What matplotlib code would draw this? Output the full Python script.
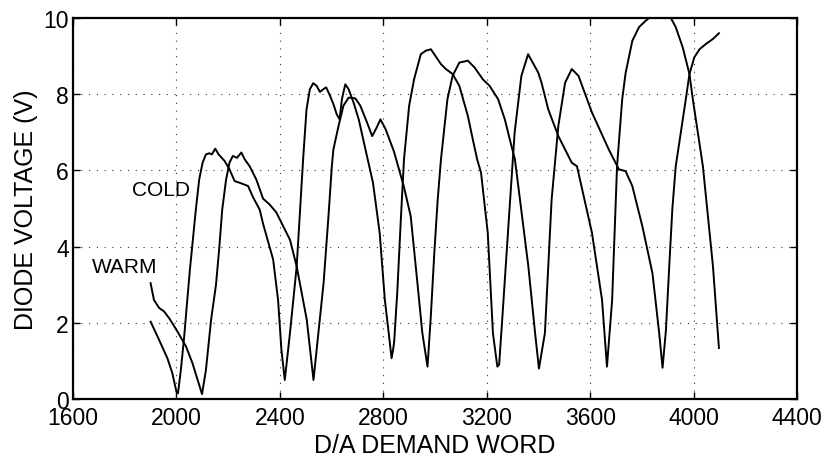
import matplotlib
matplotlib.use("Agg")
import matplotlib.pyplot as plt

plt.rcParams['font.family'] = ['Liberation Sans', 'DejaVu Sans']

# COLD curve
cold_x = [1900, 1933, 1965, 1984, 2000, 2006, 2017, 2030, 2043, 2052, 2075, 2088, 2101, 2114,
          2127, 2137, 2150, 2163, 2186, 2205, 2225, 2251, 2277, 2296, 2322, 2335, 2374, 2393,
          2406, 2419, 2439, 2465, 2490, 2503, 2516, 2529, 2542, 2555, 2568, 2579, 2594, 2607,
          2620, 2631, 2640, 2653, 2666, 2685, 2705, 2731, 2760, 2786, 2806, 2821, 2832, 2838,
          2842, 2854, 2867, 2880, 2900, 2919, 2945, 2964, 2984, 3023, 3042, 3068, 3094, 3127,
          3146, 3163, 3178, 3204, 3224, 3241, 3248, 3262, 3282, 3308, 3334, 3360, 3399, 3412,
          3438, 3477, 3529, 3549, 3607, 3646, 3665, 3685, 3704, 3724, 3737, 3763, 3789, 3815,
          3828, 3870, 3912, 3931, 3958, 3984, 3997, 4036, 4075, 4098]
cold_y = [2.03, 1.55, 1.07, 0.68, 0.19, 0.15, 0.76, 1.64, 2.69, 3.39, 4.97, 5.76, 6.2, 6.42,
          6.45, 6.42, 6.57, 6.42, 6.25, 6.03, 5.72, 5.66, 5.59, 5.3, 4.97, 4.6, 3.66, 2.6,
          1.29, 0.5, 1.73, 3.48, 6.3, 7.6, 8.13, 8.29, 8.22, 8.06, 8.13, 8.18, 7.96, 7.74,
          7.47, 7.34, 7.87, 8.26, 8.13, 7.78, 7.34, 6.55, 5.68, 4.36, 2.6, 1.73, 1.07, 1.3,
          1.5, 2.8, 4.6, 6.29, 7.7, 8.39, 9.05, 9.14, 9.18, 8.79, 8.66, 8.53, 8.22, 7.43,
          6.82, 6.29, 5.94, 4.36, 1.73, 0.85, 0.9, 2.3, 4.36, 7.0, 8.48, 9.05, 8.57, 8.3,
          7.6, 6.9, 6.2, 6.11, 4.36, 2.6, 0.85, 2.6, 6.11, 7.87, 8.55, 9.4, 9.76, 9.93,
          10.0, 10.0, 10.0, 9.76, 9.23, 8.53, 7.87, 6.11, 3.48, 1.34]

# WARM curve
warm_x = [1900, 1913, 1933, 1952, 1972, 2004, 2037, 2062, 2082, 2099, 2114, 2134, 2153, 2166,
          2177, 2192, 2205, 2218, 2234, 2251, 2264, 2283, 2309, 2335, 2361, 2386, 2439, 2465,
          2504, 2530, 2569, 2588, 2601, 2607, 2627, 2646, 2666, 2692, 2711, 2737, 2757, 2774,
          2789, 2809, 2841, 2879, 2906, 2932, 2951, 2971, 2984, 2997, 3010, 3023, 3048, 3068,
          3094, 3127, 3153, 3185, 3211, 3244, 3270, 3289, 3309, 3322, 3361, 3387, 3402, 3425,
          3451, 3477, 3503, 3529, 3555, 3607, 3672, 3711, 3737, 3763, 3802, 3841, 3867, 3880,
          3893, 3906, 3918, 3931, 3970, 3984, 4003, 4023, 4048, 4075, 4098]
warm_y = [3.04, 2.6, 2.39, 2.3, 2.12, 1.77, 1.38, 0.94, 0.5, 0.13, 0.76, 2.08, 3.0, 4.0,
          4.97, 5.76, 6.2, 6.38, 6.33, 6.47, 6.29, 6.11, 5.76, 5.26, 5.1, 4.9, 4.18, 3.48,
          2.08, 0.5, 3.04, 4.8, 6.11, 6.55, 7.17, 7.7, 7.91, 7.89, 7.7, 7.26, 6.9, 7.12,
          7.34, 7.08, 6.5, 5.59, 4.8, 3.04, 1.73, 0.85, 2.2, 3.8, 5.2, 6.29, 7.87, 8.48,
          8.83, 8.88, 8.7, 8.39, 8.22, 7.87, 7.34, 6.82, 6.29, 5.59, 3.48, 1.73, 0.8, 1.73,
          5.24, 7.17, 8.3, 8.66, 8.48, 7.52, 6.55, 6.03, 5.98, 5.59, 4.53, 3.3, 1.73, 0.82,
          1.8, 3.5, 5.0, 6.11, 7.87, 8.53, 8.97, 9.18, 9.32, 9.45, 9.6]

x_ticks = [1600, 2000, 2400, 2800, 3200, 3600, 4000, 4400]
y_ticks = [0, 2, 4, 6, 8, 10]
labels = [("COLD", 1827, 5.5), ("WARM", 1672, 3.47)]

fig = plt.figure(figsize=(8.26, 4.60), dpi=100)
ax = fig.add_axes([0.0884, 0.1304, 0.8765, 0.8283])

ax.plot(cold_x, cold_y, color='black', lw=1.4)
ax.plot(warm_x, warm_y, color='black', lw=1.4)

ax.set_xlim(1600, 4400)
ax.set_ylim(0, 10)
ax.set_xticks(x_ticks)
ax.set_yticks(y_ticks)
ax.grid(True, color='#333333', linestyle=(0, (1, 6)), linewidth=0.8)
ax.tick_params(direction='in', top=True, right=True, length=5, width=1,
               labelsize=16.5)
ax.tick_params(axis='x', pad=5)
ax.tick_params(axis='y', pad=3)
for s in ax.spines.values():
    s.set_linewidth(1.6)

ax.set_xlabel("D/A DEMAND WORD", fontsize=18, labelpad=3)
ax.set_ylabel("DIODE VOLTAGE (V)", fontsize=18, labelpad=4)

for txt, x, y in labels:
    ax.text(x, y, txt, fontsize=15, ha='left', va='center')

fig.savefig("out.png", dpi=100)
